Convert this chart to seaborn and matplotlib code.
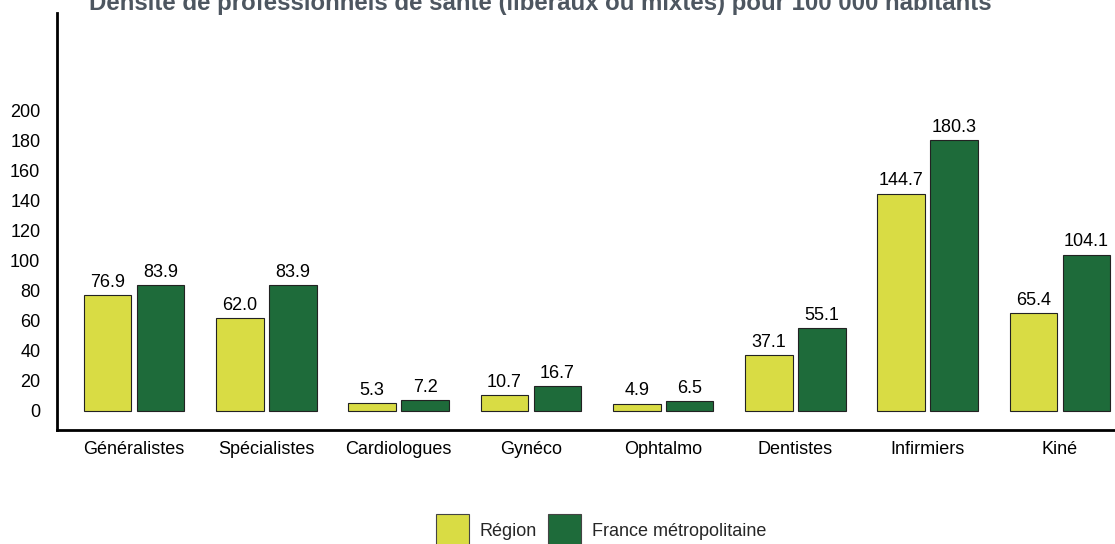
import pandas as pd
import matplotlib
matplotlib.use("Agg")
import matplotlib.pyplot as plt
import seaborn as sns

# Chart data
categories = ['Généralistes', 'Spécialistes', 'Cardiologues', 'Gynéco',
              'Ophtalmo', 'Dentistes', 'Infirmiers', 'Kiné']
region = [76.9, 62.0, 5.3, 10.7, 4.9, 37.1, 144.7, 65.4]
france = [83.9, 83.9, 7.2, 16.7, 6.5, 55.1, 180.3, 104.1]
series = ['Région', 'France métropolitaine']
y_ticks = [0, 20, 40, 60, 80, 100, 120, 140, 160, 180, 200]

df = pd.DataFrame({
    'categorie': categories * 2,
    'serie': [series[0]] * len(categories) + [series[1]] * len(categories),
    'valeur': region + france,
})

sns.set_style('white')
plt.rcParams['font.family'] = ['Liberation Sans', 'DejaVu Sans']

fig = plt.figure(figsize=(11.15, 5.44), dpi=100)
ax = fig.add_axes([57 / 1115, 114 / 544, 1 - 57 / 1115 + 0.01, (430 - 13) / 544])

palette = {'Région': '#d9dc44', 'France métropolitaine': '#1e6b3a'}
sns.barplot(data=df, x='categorie', y='valeur', hue='serie', order=categories,
            hue_order=series, palette=palette, width=0.8, gap=0.1,
            edgecolor='#222222', linewidth=0.8, saturation=1, ax=ax, legend=False)

for cont in ax.containers:
    ax.bar_label(cont, fmt='%.1f', padding=3, fontsize=13, color='black')

ax.set_ylim(-12.7, 265)
ax.set_xlim(-0.583, 7.5)
ax.set_yticks(y_ticks)
ax.tick_params(axis='both', length=0, labelsize=13, colors='black')
ax.tick_params(axis='y', pad=12)
ax.tick_params(axis='x', pad=8)
ax.set_xlabel('')
ax.set_ylabel('')
for side in ['top', 'right']:
    ax.spines[side].set_visible(False)
for side in ['left', 'bottom']:
    ax.spines[side].set_color('black')
    ax.spines[side].set_linewidth(2)

# title sits partly above the top edge, as in the original
fig.text(540 / 1115, 1 - 10 / 544,
         'Densité de professionnels de santé (libéraux ou mixtes) pour 100 000 habitants',
         ha='center', va='baseline', fontsize=17.3, fontweight='bold', color='#4d5660')

handles = [plt.Rectangle((0, 0), 1, 1, facecolor=palette[s], edgecolor='#444444', linewidth=0.8)
           for s in series]
fig.legend(handles, series, loc='center', bbox_to_anchor=(601 / 1115, 1 - 530 / 544),
           ncol=2, frameon=False, fontsize=13, handlelength=1.85, handleheight=2.3,
           handletextpad=0.6, columnspacing=0.6, borderpad=0)

fig.savefig('out.png', dpi=100)
